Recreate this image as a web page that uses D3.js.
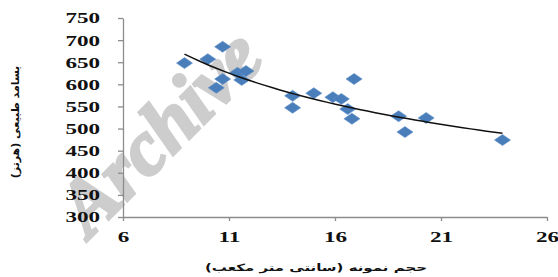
<!DOCTYPE html>
<html>
<head>
<meta charset="utf-8">
<script src="https://cdn.jsdelivr.net/npm/d3@7"></script>
<style>
body { margin: 0; background: #fff; }
svg { display: block; }
</style>
</head>
<body>
<div class="chart"></div>
<script>
// sample volume (cm3) and natural frequency (Hz)
var volume = [8.9, 10.0, 10.7, 10.4, 10.7, 11.4, 11.8, 11.6, 14.0, 14.0, 15.0, 15.9, 16.3, 16.6, 16.9, 16.8, 19.0, 19.3, 20.3, 23.9];
var freq = [648, 657, 685, 592, 612, 626, 630, 610, 574, 547, 580, 571, 567, 544, 612, 522, 528, 492, 524, 474];
var xTicks = [6, 11, 16, 21, 26];
var yTicks = [300, 350, 400, 450, 500, 550, 600, 650, 700, 750];
var xTitle = "حجم نمونه (سانتی متر مکعب)";
var yTitle = "بسامد طبیعی (هرتز)";

var width = 558, height = 277;
var x = d3.scaleLinear().domain([6, 26]).range([123, 547]);
var y = d3.scaleLinear().domain([300, 750]).range([217, 18]);

var svg = d3.select(".chart").append("svg")
	.attr("width", width)
	.attr("height", height);

// watermark behind everything
svg.append("text")
	.attr("transform", "translate(178,150) rotate(-45)")
	.attr("text-anchor", "middle")
	.style("font-family", "Liberation Serif")
	.style("font-weight", "bold")
	.style("font-style", "italic")
	.style("font-size", "78px")
	.style("fill", "#cdcdcd")
	.style("stroke", "#cdcdcd")
	.style("stroke-width", 3)
	.text("Archive");

var axisColor = "#8c8c8c";

var yAxis = svg.append("g")
	.attr("transform", "translate(123,0)")
	.call(d3.axisLeft(y).tickValues(yTicks).tickSize(5).tickSizeOuter(0).tickFormat(d3.format("d")));

var xAxis = svg.append("g")
	.attr("transform", "translate(0,217)")
	.call(d3.axisBottom(x).tickValues(xTicks).tickSize(4).tickSizeOuter(0).tickFormat(d3.format("d")));

[yAxis, xAxis].forEach(function(a) {
	a.select(".domain").attr("stroke", axisColor).attr("stroke-width", 1.3);
	a.selectAll(".tick line").attr("stroke", axisColor).attr("stroke-width", 1.3);
	a.selectAll(".tick text")
		.style("font-family", "Liberation Serif")
		.style("font-weight", "bold")
		.style("font-size", "14px")
		.attr("fill", "#111");
});

yAxis.selectAll(".tick text")
	.attr("x", 0).attr("dy", "0.35em")
	.attr("text-anchor", "end")
	.attr("transform", "translate(-23,0) scale(1.65,1)");

xAxis.selectAll(".tick text")
	.attr("y", 0).attr("dy", 0)
	.attr("text-anchor", "middle")
	.attr("transform", "translate(0,25) scale(1.65,1)");

// power trendline fitted to the points (log-log least squares)
var lx = volume.map(Math.log), ly = freq.map(Math.log);
var mx = d3.mean(lx), my = d3.mean(ly);
var b = d3.sum(lx, function(v, i) { return (v - mx) * (ly[i] - my); }) / d3.sum(lx, function(v) { return (v - mx) * (v - mx); });
var a = Math.exp(my - b * mx);
var ext = d3.extent(volume);
var trend = d3.range(0, 41).map(function(i) {
	var v = ext[0] + (ext[1] - ext[0]) * i / 40;
	return [v, a * Math.pow(v, b)];
});

svg.append("g").selectAll("path").data(volume).enter().append("path")
	.attr("d", "M0,-5.5L8,0L0,5.5L-8,0Z")
	.attr("transform", function(d, i) { return "translate(" + x(d) + "," + y(freq[i]) + ")"; })
	.attr("fill", "#4a7ebb")
	.attr("stroke", "#5a8cc6")
	.attr("stroke-width", 0.6);

svg.append("path")
	.datum(trend)
	.attr("d", d3.line().x(function(d) { return x(d[0]); }).y(function(d) { return y(d[1]); }))
	.attr("fill", "none")
	.attr("stroke", "#111")
	.attr("stroke-width", 1.5);

// axis titles
svg.append("text")
	.attr("transform", "translate(316,271) scale(1.5,1)")
	.attr("text-anchor", "middle")
	.style("font-family", "DejaVu Sans")
	.style("font-weight", "bold")
	.style("font-size", "10px")
	.attr("fill", "#111")
	.text(xTitle);

svg.append("text")
	.attr("transform", "translate(19,122) rotate(-90)")
	.attr("text-anchor", "middle")
	.style("font-family", "DejaVu Sans")
	.style("font-weight", "bold")
	.style("font-size", "11px")
	.attr("fill", "#111")
	.text(yTitle);
</script>
</body>
</html>
